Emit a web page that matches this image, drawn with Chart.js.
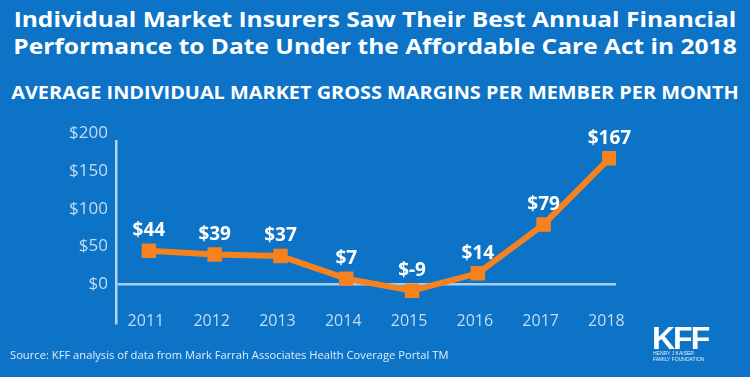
<!DOCTYPE html>
<html>
<head>
<meta charset="utf-8">
<script src="https://cdn.jsdelivr.net/npm/chart.js@4"></script>
<style>
  html, body { margin: 0; padding: 0; }
  body { width: 750px; height: 377px; background: #0d73c6; position: relative; overflow: hidden; font-family: "Open Sans", sans-serif; }
  #chart { position: absolute; left: 0; top: 0; }
  .txt { position: absolute; color: #fff; white-space: nowrap; }
  #title { left: 0; width: 750px; top: 6px; text-align: center; font-weight: 700; font-size: 21px; line-height: 27px; transform: scaleX(1.168); }
  #subtitle { left: 0; width: 750px; top: 80px; text-align: center; font-weight: 700; font-size: 18px; transform: scaleX(1.105); }
  #source { left: 10px; top: 347px; font-size: 11.2px; color: #e3eef9; }
  #kff { left: 652px; top: 322px; font-family: "Liberation Sans", Arial, sans-serif; font-weight: 700; font-size: 32px; letter-spacing: -2px; line-height: 32px; }
  #kffsub { left: 653px; top: 350px; font-family: "Liberation Sans", Arial, sans-serif; font-size: 5px; line-height: 6px; color: #e3eef9; }
</style>
</head>
<body>
<div id="title" class="txt">Individual Market Insurers Saw Their Best Annual Financial<br>Performance to Date Under the Affordable Care Act in 2018</div>
<div id="subtitle" class="txt">AVERAGE INDIVIDUAL MARKET GROSS MARGINS PER MEMBER PER MONTH</div>
<canvas id="chart" width="750" height="377"></canvas>
<div id="source" class="txt">Source: KFF analysis of data from Mark Farrah Associates Health Coverage Portal TM</div>
<div id="kff" class="txt">KFF</div>
<div id="kffsub" class="txt">HENRY J KAISER<br>FAMILY FOUNDATION</div>
<script>
// values
var years = [2011, 2012, 2013, 2014, 2015, 2016, 2017, 2018];
var margins = [44, 39, 37, 7, -9, 14, 79, 167];
var yTicks = [0, 50, 100, 150, 200];

var orange = '#f5821f';

// $ labels above each point, and the year labels that sit inside the plot bottom
var valueLabels = {
    id: 'valueLabels',
    afterDatasetsDraw: function(chart) {
        var ctx = chart.ctx;
        var meta = chart.getDatasetMeta(0);
        var xs = chart.scales.x;
        ctx.save();
        ctx.fillStyle = '#ffffff';
        ctx.font = 'bold 19px "Open Sans"';
        ctx.textAlign = 'center';
        ctx.textBaseline = 'middle';
        meta.data.forEach(function(pt, i) {
            ctx.fillText('$' + margins[i], pt.x, pt.y - 20);
        });
        ctx.fillStyle = '#c3dcf4';
        ctx.font = '16px "Open Sans"';
        years.forEach(function(y) {
            ctx.fillText(String(y), xs.getPixelForValue(y) - 3, chart.chartArea.bottom - 2);
        });
        ctx.restore();
    }
};

var ctx = document.getElementById('chart').getContext('2d');
var myChart = new Chart(ctx, {
    type: 'line',
    data: {
        datasets: [{
            data: years.map(function(y, i) { return { x: y, y: margins[i] }; }),
            borderColor: orange,
            backgroundColor: orange,
            borderWidth: 6,
            pointStyle: 'rect',
            pointRadius: 6,
            pointBackgroundColor: orange,
            pointBorderColor: orange,
            tension: 0
        }]
    },
    options: {
        responsive: false,
        devicePixelRatio: 1,
        animation: false,
        layout: { padding: { top: 141, right: 134, left: 0, bottom: 0 } },
        plugins: { legend: { display: false }, tooltip: { enabled: false } },
        scales: {
            x: {
                type: 'linear',
                min: 2010.5,
                max: 2018.1,
                afterBuildTicks: function(scale) {
                    scale.ticks = years.map(function(v) { return { value: v }; });
                },
                afterFit: function(scale) { scale.height = 54; },
                grid: { display: false, drawTicks: false },
                border: { display: false },
                ticks: { display: false }
            },
            y: {
                min: -52,
                max: 190,
                afterBuildTicks: function(scale) {
                    scale.ticks = yTicks.map(function(v) { return { value: v }; });
                },
                afterFit: function(scale) { scale.width = 116; },
                grid: {
                    drawTicks: false,
                    lineWidth: 2.5,
                    color: function(c) { return c.tick && c.tick.value === 0 ? '#a9cdef' : 'rgba(0,0,0,0)'; }
                },
                border: { display: true, color: '#b5d3ef', width: 2.5 },
                ticks: {
                    padding: 8,
                    color: '#c3dcf4',
                    font: { family: 'Open Sans', size: 17 },
                    callback: function(v) { return '$' + v; }
                }
            }
        }
    },
    plugins: [valueLabels]
});
</script>
</body>
</html>
